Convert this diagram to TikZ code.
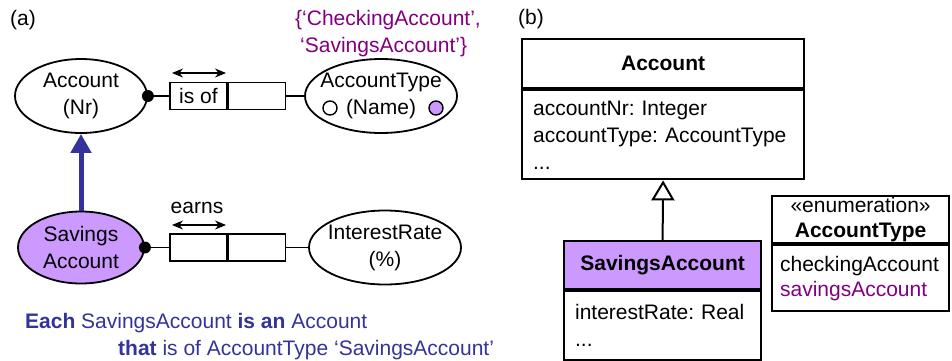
\documentclass[tikz,border=0pt]{standalone}
\usepackage{fontspec}
\setmainfont{Liberation Sans}
\usetikzlibrary{arrows.meta,shapes.geometric}
\definecolor{lilac}{HTML}{CC99FF}
\definecolor{plum}{HTML}{800080}
\definecolor{navy}{HTML}{333399}
\frenchspacing
\begin{document}
\begin{tikzpicture}[x=1pt,y=-1pt,
  font=\fontsize{21}{27}\selectfont,
  ent/.style={ellipse, draw, line width=1.8pt, inner xsep=-20pt, inner ysep=-8pt, align=center},
  role/.style={rectangle, draw, line width=1.6pt, minimum width=57pt, minimum height=27pt, inner sep=0pt},
  hdr/.style={rectangle, draw, line width=2.2pt, inner sep=0pt, anchor=north west, align=center},
  body/.style={rectangle, draw, line width=2.2pt, anchor=north west, inner xsep=11pt, inner ysep=0pt, align=left},
  dir/.style={{Stealth[length=11pt,width=9pt]}-{Stealth[length=11pt,width=9pt]}, line width=1.2pt},
  conn/.style={line width=1.6pt},
  dotc/.style={circle, fill, inner sep=0pt, minimum size=12pt},
  lbl/.style={inner sep=0pt, anchor=base west},
  valc/.style={circle, draw, line width=1.4pt, minimum size=14pt, inner sep=0pt}]
\useasboundingbox (0,0) rectangle (952,360);

% ---------- (a) ----------
\node[lbl] (la) at (10,25) {(a)};
\node[lbl, text=plum] (vals1) at (295,25) {\{‘CheckingAccount’,};
\node[lbl, text=plum] (vals2) at (300,52) {‘SavingsAccount’\}};

\node[ent, minimum width=132pt, minimum height=74pt] (acc) at (81,96) {Account\\(Nr)};
\node[ent, minimum width=152pt, minimum height=74pt] (at) at (381,96) {AccountType\\(Name)};
\node[valc] (oc) at (330,108) {};
\node[valc, fill=lilac] (pc) at (436,108) {};

\node[role] (ioL) at (198.5,96) {is of};
\node[role, anchor=west] (ioR) at (ioL.east) {};
\coordinate (ioA1) at (172,73);
\coordinate (ioA2) at (226,73);
\draw[dir] (ioA1) -- (ioA2);
\node[dotc] (d1) at (acc.east) {};
\draw[conn] (d1.center) -- (ioL.west);
\draw[conn] (ioR.east) -- (at.west);

\node[ent, fill=lilac, minimum width=126pt, minimum height=72pt] (sav) at (81,247.5) {Savings\\Account};
\node[ent, minimum width=152pt, minimum height=74pt] (ir) at (385,247.5) {InterestRate\\(\%)};
\node[role] (eaL) at (198.5,247.5) {};
\node[role, anchor=west] (eaR) at (eaL.east) {};
\node[inner sep=0pt, anchor=base] (earns) at (197,213) {earns};
\coordinate (eaA1) at (172,225);
\coordinate (eaA2) at (226,225);
\draw[dir] (eaA1) -- (eaA2);
\node[dotc] (d2) at (sav.east) {};
\draw[conn] (d2.center) -- (eaL.west);
\draw[conn] (eaR.east) -- (ir.west);

\draw[navy, line width=5pt, -{Triangle[length=19pt,width=20pt]}] (sav.north) -- (acc.south);

\node[lbl, text=navy] (s1) at (25,328) {\textbf{Each} SavingsAccount \textbf{is an} Account};
\node[lbl, text=navy] (s2) at (118,355) {\textbf{that} is of AccountType ‘SavingsAccount’};

% ---------- (b) ----------
\node[lbl] (lb) at (518,24) {(b)};

\node[hdr, minimum width=282pt, minimum height=49pt] (accH) at (521,38) {\textbf{Account}};
\node[body, text width=260pt, minimum height=89pt] (accB) at (accH.south west) {accountNr: Integer\\accountType: AccountType\\...};

\node[hdr, fill=lilac, minimum width=197pt, minimum height=48pt] (savH) at (563,240) {\textbf{SavingsAccount}};
\node[body, text width=175pt, minimum height=69pt] (savB) at (savH.south west) {interestRate: Real\\...};

\draw[line width=2pt, -{Triangle[open,length=20pt,width=23pt]}] (savH.north) -- (accB.south);

\node[hdr, minimum width=177pt, minimum height=47pt, font=\fontsize{21}{25}\selectfont] (enH) at (771,195) {«enumeration»\\\textbf{AccountType}};
\node[body, inner xsep=8pt, text width=161pt, minimum height=66pt, font=\fontsize{21}{25}\selectfont] (enB) at (enH.south west) {checkingAccount\\\textcolor{plum}{savingsAccount}};
\end{tikzpicture}
\end{document}
